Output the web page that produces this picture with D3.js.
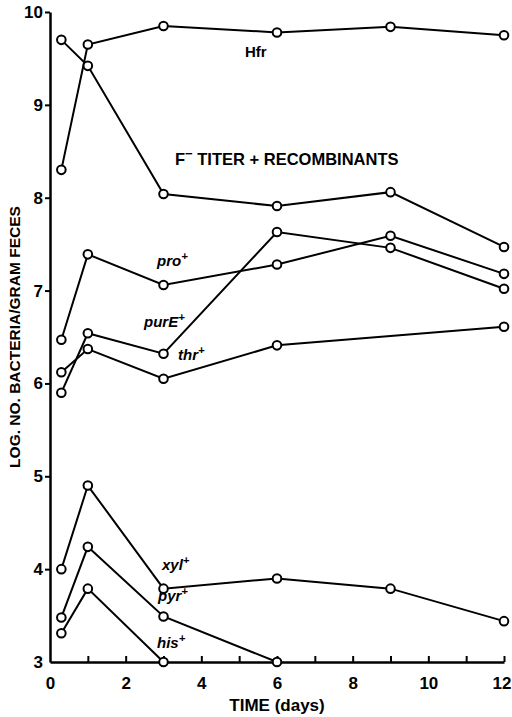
<!DOCTYPE html>
<html>
<head>
<meta charset="utf-8">
<script src="https://cdn.jsdelivr.net/npm/d3@7"></script>
<style>
  body { margin: 0; background: #fff; }
  svg { display: block; font-family: "Liberation Sans", Arial, sans-serif; }
</style>
</head>
<body>
<div id="chart"></div>
<script>
// sampling days
var days = [0.3, 1, 3, 6, 9, 12];
var daysThr = [0.3, 1, 3, 6, 12];
var daysPyr = [0.3, 1, 3, 6];
var daysHis = [0.3, 1, 3];

// log10 counts per gram of feces
var hfr      = [8.30, 9.65, 9.85, 9.78, 9.84, 9.75];
var fTiter   = [9.70, 9.42, 8.04, 7.91, 8.06, 7.47];
var pro      = [6.47, 7.39, 7.06, 7.28, 7.59, 7.18];
var purE     = [5.90, 6.54, 6.32, 7.63, 7.46, 7.02];
var thr      = [6.12, 6.37, 6.05, 6.41, 6.61];
var xyl      = [4.00, 4.90, 3.79, 3.90, 3.79, 3.44];
var pyr      = [3.48, 4.24, 3.49, 3.00];
var his      = [3.31, 3.79, 3.00];

var yTicks = [3, 4, 5, 6, 7, 8, 9, 10];
var xTicks = [0, 1, 2, 3, 4, 5, 6, 7, 8, 9, 10, 11, 12];
var xLabels = [0, 2, 4, 6, 8, 10, 12];

var series = [
    { t: days, v: hfr },
    { t: days, v: fTiter },
    { t: days, v: pro },
    { t: days, v: purE },
    { t: daysThr, v: thr },
    { t: days, v: xyl },
    { t: daysPyr, v: pyr },
    { t: daysHis, v: his }
];

var width = 512, height = 717;

var x = d3.scaleLinear().domain([0, 12]).range([50, 504]);
var y = d3.scaleLinear().domain([3, 10]).range([662, 12]);

var svg = d3.select("#chart").append("svg")
    .attr("width", width)
    .attr("height", height);

// y axis
var yAxis = svg.append("g")
    .attr("transform", "translate(" + x(0) + ",0)")
    .call(d3.axisLeft(y).tickValues(yTicks).tickSize(5).tickSizeOuter(0).tickPadding(2)
        .tickFormat(d3.format("d")));
yAxis.select(".domain").attr("stroke-width", 2.5);
yAxis.selectAll(".tick line").attr("stroke-width", 2);
yAxis.selectAll(".tick text")
    .attr("font-size", 17).attr("font-weight", "bold").attr("fill", "#000");
yAxis.selectAll(".tick").filter(function(d) { return d === 3; }).select("line").remove();

// x axis, ticks pointing into the plot
var xAxis = svg.append("g")
    .attr("transform", "translate(0," + y(3) + ")")
    .call(d3.axisBottom(x).tickValues(xTicks).tickSize(-6).tickSizeOuter(0).tickPadding(15)
        .tickFormat(function(d) { return xLabels.indexOf(d) >= 0 ? d : ""; }));
xAxis.select(".domain").attr("stroke-width", 2.5);
xAxis.selectAll(".tick line").attr("stroke-width", 2);
xAxis.selectAll(".tick").filter(function(d) { return d === 0; }).select("line").remove();
xAxis.selectAll(".tick text")
    .attr("font-size", 17).attr("font-weight", "bold").attr("fill", "#000");
// keep the last label inside the page
xAxis.selectAll(".tick").filter(function(d) { return d === 12; }).select("text")
    .attr("text-anchor", "end").attr("dx", 7);

// lines
var line = d3.line()
    .x(function(d) { return x(d[0]); })
    .y(function(d) { return y(d[1]); });

function pts(s) {
    return s.v.map(function(v, i) { return [s.t[i], v]; });
}

svg.selectAll(".series")
    .data(series)
    .enter().append("path")
    .attr("class", "series")
    .attr("d", function(s) { return line(pts(s)); })
    .attr("fill", "none")
    .attr("stroke", "#000")
    .attr("stroke-width", 2);

// points
series.forEach(function(s) {
    svg.selectAll(null)
        .data(pts(s))
        .enter().append("circle")
        .attr("cx", function(d) { return x(d[0]); })
        .attr("cy", function(d) { return y(d[1]); })
        .attr("r", 4.3)
        .attr("fill", "#fff")
        .attr("stroke", "#000")
        .attr("stroke-width", 2);
});

// series labels
function label(px, py, main, sup, italic, size) {
    var t = svg.append("text")
        .attr("x", px).attr("y", py)
        .attr("font-size", size)
        .attr("font-weight", "bold")
        .attr("font-style", italic ? "italic" : "normal");
    t.append("tspan").text(main);
    if (sup) {
        t.append("tspan").attr("dy", -6).attr("font-size", size * 0.75).text(sup);
    }
    return t;
}

label(245, 57, "Hfr", null, false, 15);
var ft = svg.append("text")
    .attr("x", 175).attr("y", 165)
    .attr("font-size", 16.5).attr("font-weight", "bold");
ft.append("tspan").text("F");
ft.append("tspan").attr("dy", -7).attr("font-size", 13).text("\u2212");
ft.append("tspan").attr("dy", 7).text(" TITER + RECOMBINANTS");

label(157, 266, "pro", "+", true, 15);
label(144, 327, "purE", "+", true, 15);
label(178, 360, "thr", "+", true, 15);
label(162, 570, "xyl", "+", true, 15);
label(158, 601, "pyr", "+", true, 15);
label(157, 648, "his", "+", true, 15);

// axis titles
svg.append("text")
    .attr("transform", "translate(20,337) rotate(-90)")
    .attr("text-anchor", "middle")
    .attr("font-size", 15.5)
    .attr("font-weight", "bold")
    .text("LOG. NO. BACTERIA/GRAM FECES");

svg.append("text")
    .attr("x", 277).attr("y", 711)
    .attr("text-anchor", "middle")
    .attr("font-size", 17)
    .attr("font-weight", "bold")
    .text("TIME (days)");
</script>
</body>
</html>
